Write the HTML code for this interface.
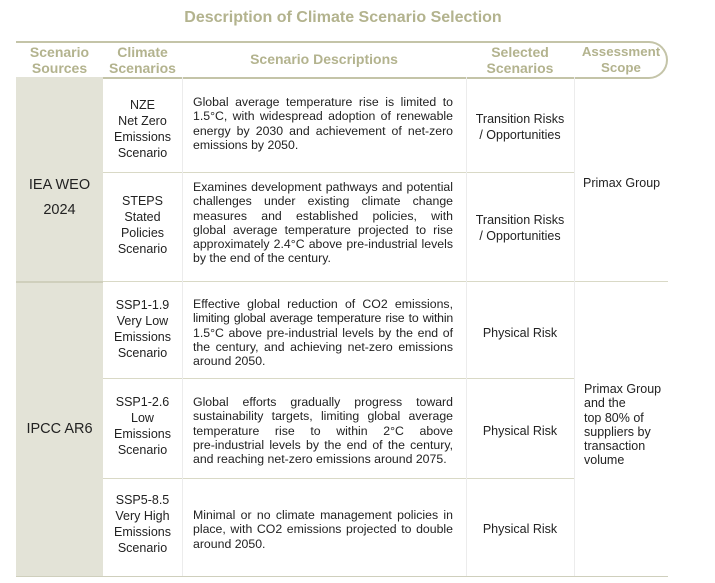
<!DOCTYPE html>
<html><head><meta charset="utf-8"><style>
body{margin:0;width:715px;height:583px;background:#fff;position:relative;font-family:"Liberation Sans","Noto Sans CJK SC",sans-serif;color:#222;overflow:hidden}
.a{position:absolute}
.t{font-size:16px;font-weight:bold;color:#b3b38e;left:0;width:686px;text-align:center;top:9px}
.h{font-size:14px;font-weight:bold;color:#b3b38e;text-align:center;line-height:16px}
.c{font-size:12.5px;line-height:16px;text-align:center}
.d{font-size:12.3px;line-height:14.3px;width:260px;left:193px;white-space:nowrap}
.d span{display:block;text-align:justify;text-align-last:justify}
.d span:last-child{text-align-last:left}
.vl{position:absolute;width:1px;background:#ececec}
.hl{position:absolute;height:1px;background:#d9d9c6}
</style></head><body>
<div class="a t">Description of Climate Scenario Selection</div>
<div class="a" style="left:16px;top:41px;width:650px;height:34px;border:2px solid #c4c4a8;border-left:none;border-radius:0 19px 19px 0"></div>
<div class="a" style="left:16px;top:77px;width:87px;height:500px;background:#e3e3d7"></div>
<div class="hl" style="left:16px;top:281px;width:87px;background:#cfcfbc;height:2px"></div>
<div class="hl" style="left:103px;top:172px;width:471px"></div>
<div class="hl" style="left:103px;top:281px;width:565px"></div>
<div class="hl" style="left:103px;top:378px;width:471px"></div>
<div class="hl" style="left:103px;top:478px;width:471px"></div>
<div class="hl" style="left:16px;top:576px;width:652px;background:#cfcfbc"></div>
<div class="vl" style="left:182px;top:77px;height:499px"></div>
<div class="vl" style="left:466px;top:77px;height:499px"></div>
<div class="vl" style="left:574px;top:77px;height:499px"></div>

<div class="a h" style="left:16px;width:87px;top:44px">Scenario<br>Sources</div>
<div class="a h" style="left:103px;width:79px;top:44px">Climate<br>Scenarios</div>
<div class="a h" style="left:182px;width:284px;top:51px">Scenario Descriptions</div>
<div class="a h" style="left:466px;width:108px;top:44px">Selected<br>Scenarios</div>
<div class="a h" style="left:574px;width:94px;top:44px;font-size:13.3px">Assessment<br>Scope</div>

<div class="a c" style="left:16px;width:87px;top:173px;font-size:14.5px;line-height:25px">IEA WEO<br>2024</div>
<div class="a c" style="left:16px;width:87px;top:421px;font-size:14.5px">IPCC AR6</div>

<div class="a c" style="left:103px;width:79px;top:97px">NZE<br>Net Zero<br>Emissions<br>Scenario</div>
<div class="a c" style="left:103px;width:79px;top:193px">STEPS<br>Stated<br>Policies<br>Scenario</div>
<div class="a c" style="left:103px;width:79px;top:297px">SSP1-1.9<br>Very Low<br>Emissions<br>Scenario</div>
<div class="a c" style="left:103px;width:79px;top:394px">SSP1-2.6<br>Low<br>Emissions<br>Scenario</div>
<div class="a c" style="left:103px;width:79px;top:492px">SSP5-8.5<br>Very High<br>Emissions<br>Scenario</div>

<div class="a d" style="top:95px"><span>Global average temperature rise is limited to</span><span>1.5°C, with widespread adoption of renewable</span><span>energy by 2030 and achievement of net-zero</span><span>emissions by 2050.</span></div>
<div class="a d" style="top:180px"><span>Examines development pathways and potential</span><span>challenges under existing climate change</span><span>measures and established policies, with</span><span>global average temperature projected to rise</span><span>approximately 2.4°C above pre-industrial levels</span><span>by the end of the century.</span></div>
<div class="a d" style="top:297px"><span>Effective global reduction of CO2 emissions,</span><span style="letter-spacing:-0.2px;word-spacing:-1px">limiting global average temperature rise to within</span><span>1.5°C above pre-industrial levels by the end of</span><span>the century, and achieving net-zero emissions</span><span>around 2050.</span></div>
<div class="a d" style="top:395px"><span>Global efforts gradually progress toward</span><span>sustainability targets, limiting global average</span><span>temperature rise to within 2°C above</span><span>pre-industrial levels by the end of the century,</span><span>and reaching net-zero emissions around 2075.</span></div>
<div class="a d" style="top:508px"><span>Minimal or no climate management policies in</span><span>place, with CO2 emissions projected to double</span><span>around 2050.</span></div>

<div class="a c" style="left:466px;width:108px;top:111px">Transition Risks<br>/ Opportunities</div>
<div class="a c" style="left:466px;width:108px;top:212px">Transition Risks<br>/ Opportunities</div>
<div class="a c" style="left:466px;width:108px;top:325px">Physical Risk</div>
<div class="a c" style="left:466px;width:108px;top:423px">Physical Risk</div>
<div class="a c" style="left:466px;width:108px;top:521px">Physical Risk</div>

<div class="a c" style="left:583px;top:175px;text-align:left">Primax Group</div>
<div class="a c" style="left:584px;top:382px;text-align:left;line-height:14.3px">Primax Group<br>and the<br>top 80% of<br>suppliers by<br>transaction<br>volume</div>
</body></html>
